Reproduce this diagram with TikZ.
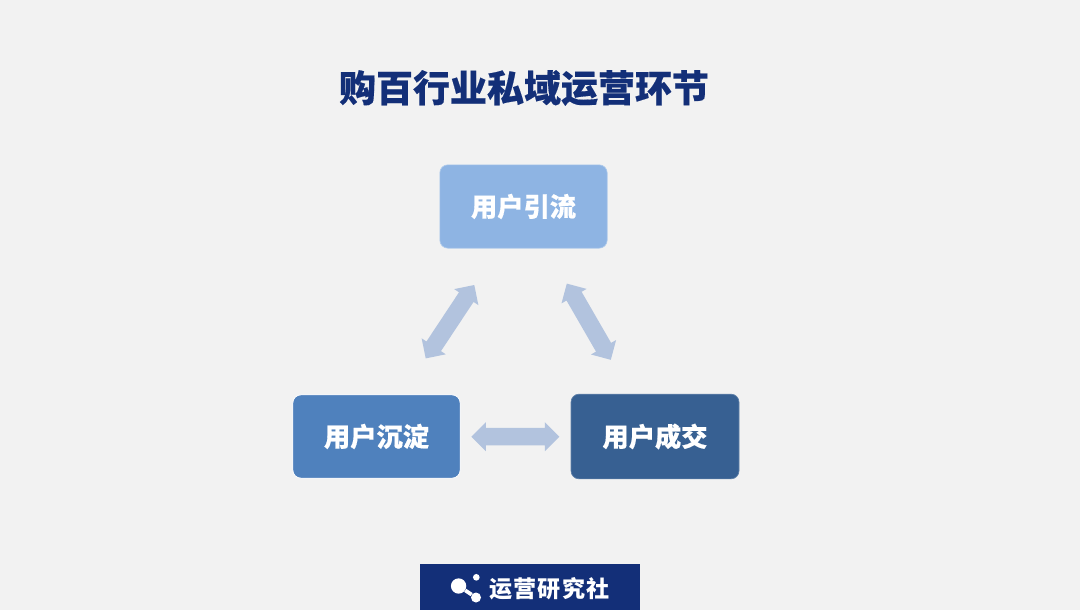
\documentclass[tikz,border=0pt]{standalone}
\usepackage{fontspec}
\usetikzlibrary{shapes.arrows}
\newfontfamily\cjkheavy{Noto Sans CJK SC}[BoldFeatures={FakeBold=0.4}]
\newfontfamily\cjkbrand{Noto Sans CJK SC}[LetterSpace=5]
\definecolor{bgc}{HTML}{F2F2F2}
\definecolor{navyc}{HTML}{132F78}
\definecolor{topc}{HTML}{8EB4E3}
\definecolor{leftc}{HTML}{4F81BD}
\definecolor{rightc}{HTML}{376092}
\definecolor{arrowc}{HTML}{B2C3DE}
\tikzset{
  stagebox/.style={rectangle,rounded corners=6pt,minimum width=125.5pt,minimum height=62.5pt,inner sep=0pt,
    text=white,font=\cjkheavy\bfseries\fontsize{19.7pt}{22pt}\selectfont},
  linkarrow/.style={double arrow,fill=arrowc,draw=none,inner xsep=0pt,inner ysep=5.6pt,minimum height=66pt,minimum width=21.75pt,
    double arrow head extend=3.85pt,double arrow tip angle=90},
  logodot/.style={circle,fill=white,draw=none,inner sep=0pt}
}
\begin{document}
\begin{tikzpicture}[x=0.75pt,y=-0.75pt]
\useasboundingbox (0,0) rectangle (1080,610);
\fill[bgc] (0,0) rectangle (1080,610);
\node[text=navyc,inner sep=0pt,font=\cjkheavy\bfseries\fontsize{27.75pt}{30pt}\selectfont] (title) at (524,88) {购百行业私域运营环节};
\node[stagebox,fill=topc,draw=topc!70!white,line width=0.5pt] (top) at (523.5,206.5) {用户引流};
\node[stagebox,fill=leftc,draw=white,line width=0.6pt] (left) at (376.5,436.5) {用户沉淀};
\node[stagebox,fill=rightc,draw=rightc!80!white,line width=0.5pt,minimum width=126pt,minimum height=63.5pt] (right) at (655,436.5) {用户成交};
\node[linkarrow,rotate=56.5] (linkl) at (450,321.7) {};
\node[linkarrow,rotate=-60] (linkr) at (588.8,321.7) {};
\node[linkarrow] (linkb) at (515.3,436.7) {};
\fill[navyc] (420,564) rectangle (640,610);
\node[logodot,minimum size=11.5pt] (dota) at (458.6,586) {};
\node[logodot,minimum size=5pt] (dotb) at (476.3,577.3) {};
\node[logodot,minimum size=7.5pt] (dotc) at (476,597.5) {};
\draw[white,line width=2.8pt] (dota) -- (dotc);
\node[text=white,inner sep=0pt,font=\cjkbrand\bfseries\fontsize{17.3pt}{20pt}\selectfont,anchor=center] (brand) at (549.5,589) {运营研究社};
\end{tikzpicture}
\end{document}
